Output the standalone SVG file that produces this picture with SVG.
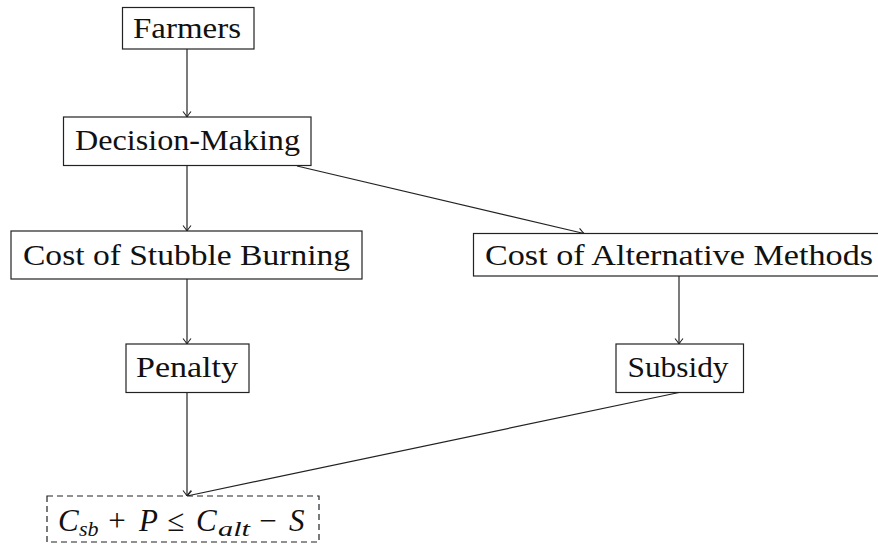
<svg xmlns="http://www.w3.org/2000/svg" width="878" height="546" viewBox="0 0 878 546">
<style>
  .box { fill: #fff; stroke: #222; stroke-width: 1.2; }
  .dash { fill: #fff; stroke: #222; stroke-width: 1.2; stroke-dasharray: 6 4; }
  .lbl { font-size: 30px; fill: #111; text-anchor: middle; }
  .m { font-size: 31px; fill: #111; }
  .mi { font-style: italic; }
  .sub { font-size: 22px; font-style: italic; fill: #111; }
  .edge { fill: none; stroke: #222; stroke-width: 1.2; marker-end: url(#arr); }
</style>
<defs>
  <marker id="arr" markerUnits="userSpaceOnUse" markerWidth="12" markerHeight="12" viewBox="-8 -6 10 12" refX="0" refY="0" orient="auto">
    <path d="M-5.5,-4 Q-1.5,-0.8 0,0 Q-1.5,0.8 -5.5,4" fill="none" stroke="#222" stroke-width="1.1"/>
  </marker>
</defs>
<rect width="878" height="546" fill="#fff"/>
<g id="connectors">
  <line class="edge" x1="187" y1="49" x2="187" y2="117"/>
  <line class="edge" x1="187" y1="165" x2="187" y2="231"/>
  <line class="edge" x1="297" y1="166" x2="584" y2="233.5"/>
  <line class="edge" x1="187" y1="279" x2="187" y2="344"/>
  <line class="edge" x1="679" y1="276" x2="679" y2="344"/>
  <line class="edge" x1="187" y1="392.5" x2="187" y2="496"/>
  <line class="edge" x1="679" y1="392.5" x2="187" y2="496"/>
</g>
<g id="nodes" font-family="Liberation Serif, DejaVu Serif, serif">
<g id="farmers">
  <rect class="box" x="122.5" y="7.5" width="131.5" height="41.5"/>
  <text class="lbl" x="187" y="38" textLength="108" lengthAdjust="spacingAndGlyphs">Farmers</text>
</g>
<g id="decision">
  <rect class="box" x="63.5" y="117" width="247.5" height="48.5"/>
  <text class="lbl" x="187.5" y="150" textLength="225" lengthAdjust="spacingAndGlyphs">Decision-Making</text>
</g>
<g id="stubble">
  <rect class="box" x="11" y="231" width="351" height="48"/>
  <text class="lbl" x="186.5" y="265" textLength="327" lengthAdjust="spacingAndGlyphs">Cost of Stubble Burning</text>
</g>
<g id="alternative">
  <rect class="box" x="473.5" y="233.5" width="410" height="42.5"/>
  <text class="lbl" x="679" y="265" textLength="388" lengthAdjust="spacingAndGlyphs">Cost of Alternative Methods</text>
</g>
<g id="penalty">
  <rect class="box" x="126" y="344" width="123" height="48.5"/>
  <text class="lbl" x="187" y="377" textLength="102" lengthAdjust="spacingAndGlyphs">Penalty</text>
</g>
<g id="subsidy">
  <rect class="box" x="616" y="344" width="127.5" height="48.5"/>
  <text class="lbl" x="678" y="377" textLength="101" lengthAdjust="spacingAndGlyphs">Subsidy</text>
</g>
<g id="result">
  <rect class="dash" x="47" y="496" width="272" height="46"/>
  <text class="m mi" x="58" y="531">C</text>
  <text class="sub" x="79" y="536">sb</text>
  <text class="m" x="117" y="531" text-anchor="middle">+</text>
  <text class="m mi" x="139" y="531">P</text>
  <text class="m" x="176" y="531" text-anchor="middle">≤</text>
  <text class="m mi" x="196" y="531">C</text>
  <text class="sub" x="218" y="536" textLength="32" lengthAdjust="spacingAndGlyphs">alt</text>
  <text class="m" x="268" y="531" text-anchor="middle">−</text>
  <text class="m mi" x="289" y="531">S</text>
</g>
</g>
</svg>
